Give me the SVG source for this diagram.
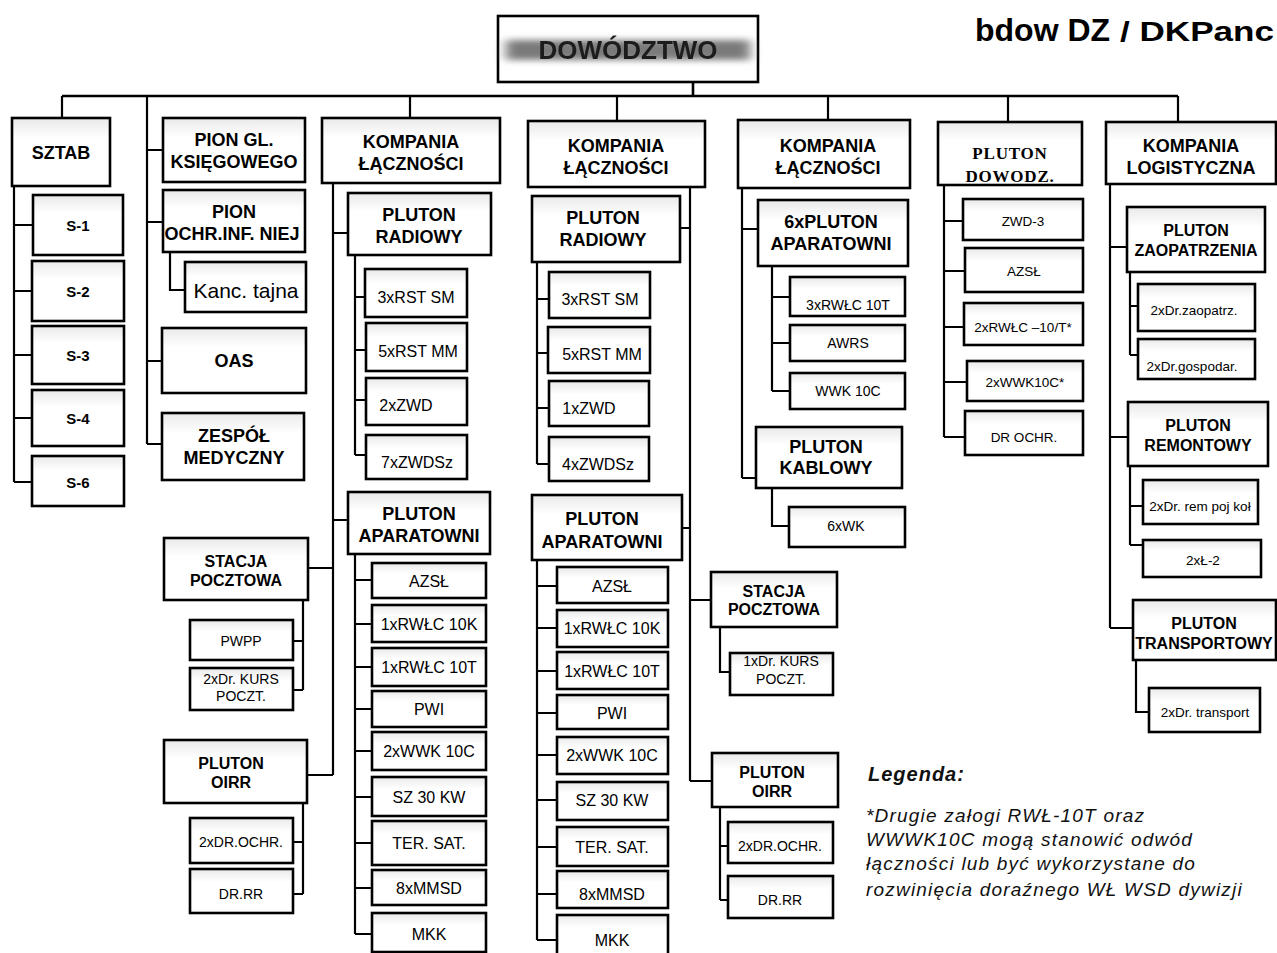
<svg xmlns="http://www.w3.org/2000/svg" width="1277" height="953" viewBox="0 0 1277 953">
  <defs>
    <linearGradient id="boxfill" x1="0" y1="0" x2="0" y2="1">
      <stop offset="0" stop-color="#e9e9e9"/>
      <stop offset="0.3" stop-color="#ffffff"/>
      <stop offset="1" stop-color="#ffffff"/>
    </linearGradient>
    <filter id="smear" x="-20%" y="-100%" width="140%" height="300%">
      <feGaussianBlur stdDeviation="6 3"/>
    </filter>
    <filter id="soft" x="-5%" y="-20%" width="110%" height="140%">
      <feGaussianBlur stdDeviation="0.7"/>
    </filter>
  </defs>
  <style>
    .box { fill: url(#boxfill); stroke: #000; stroke-width: 2.6; }
    .ln { fill: none; stroke: #000; stroke-width: 2.2; }
    .bus { fill: none; stroke: #000; stroke-width: 2.6; }
    text { font-family: "Liberation Sans", Arial, sans-serif; fill: #000; text-anchor: middle; dominant-baseline: central; }
    .h { font-size: 18px; font-weight: bold; }
    .hs { font-size: 16px; font-weight: bold; }
    .sx { font-size: 15px; font-weight: bold; }
    .i { font-size: 16px; }
    .is { font-size: 14px; }
    .ix { font-size: 13.5px; }
    .serif { font-family: "Liberation Serif", "Times New Roman", serif; font-size: 17px; font-weight: bold; letter-spacing: 0.8px; }
    .leg { text-anchor: start; dominant-baseline: auto; font-style: italic; font-size: 19px; letter-spacing: 1.2px; fill: #111; }
  </style>
  <rect width="1277" height="953" fill="#fff"/>

  <!-- connectors -->
  <g id="connectors">
    <path class="bus" d="M62 96 H1178 M693 82 V96"/>
    <path class="ln" d="M62 96 V118 M147 96 V444 M410 96 V118 M617 96 V121 M828 96 V120 M1008 96 V122 M1178 96 V122"/>
    <!-- staff -->
    <path class="ln" d="M14 186 V482 M14 225 H33 M14 291 H32 M14 355 H32 M14 418 H32 M14 482 H32"/>
    <!-- accounting / protection / OAS / medical -->
    <path class="ln" d="M147 150 H163 M147 222 H163 M147 361 H162 M147 444 H162 M170 252 V290 H185"/>
    <!-- signal company 1 -->
    <path class="ln" d="M333 183 V775 M333 233 H348 M333 520 H348 M308 568 H333 M307 775 H333"/>
    <path class="ln" d="M355 255 V455 M355 297 H365 M355 350 H366 M355 400 H366 M355 455 H366"/>
    <path class="ln" d="M355 554 V934 M355 580 H372 M355 624 H372 M355 667 H372 M355 709 H372 M355 751 H372 M355 797 H372 M355 843 H372 M355 888 H372 M355 934 H372"/>
    <path class="ln" d="M303 600 V690 M293 641 H303 M293 690 H303"/>
    <path class="ln" d="M303 803 V894 M293 842 H303 M293 894 H303"/>
    <!-- signal company 2 -->
    <path class="ln" d="M690 187 V781 M680 228 H690 M682 528 H690 M690 600 H711 M690 781 H712"/>
    <path class="ln" d="M537 262 V464 M537 299 H549 M537 353 H548 M537 408 H549 M537 464 H549"/>
    <path class="ln" d="M537 560 V940 M537 586 H557 M537 628 H557 M537 671 H557 M537 713 H557 M537 755 H557 M537 800 H557 M537 847 H557 M537 894 H557 M537 940 H557"/>
    <path class="ln" d="M720 627 V672 H730"/>
    <path class="ln" d="M720 807 V900 M720 846 H728 M720 900 H728"/>
    <!-- signal company 3 -->
    <path class="ln" d="M742 188 V478 M742 229 H758 M742 478 H756"/>
    <path class="ln" d="M772 266 V391 M772 297 H790 M772 343 H790 M772 391 H790"/>
    <path class="ln" d="M772 488 V526 H789"/>
    <!-- command platoon -->
    <path class="ln" d="M944 185 V437 M944 221 H963 M944 271 H965 M944 327 H964 M944 382 H967 M944 437 H965"/>
    <!-- logistics company -->
    <path class="ln" d="M1110 184 V628 M1110 247 H1127 M1110 437 H1128 M1110 628 H1133"/>
    <path class="ln" d="M1130 272 V355 M1130 306 H1138 M1130 355 H1138"/>
    <path class="ln" d="M1130 466 V545 M1130 506 H1143 M1130 545 H1143"/>
    <path class="ln" d="M1136 660 V712 H1149"/>
  </g>

  <!-- headquarters -->
  <g id="dowodztwo">
    <rect class="box" x="498" y="16" width="260" height="66" style="fill:#fff"/>
    <rect x="506" y="40" width="244" height="20" fill="#7a7a7a" filter="url(#smear)"/>
    <text x="628" y="50" filter="url(#soft)" style="font-size:26px;font-weight:bold;fill:#1e1e1e">DOWÓDZTWO</text>
  </g>

  <g id="title">
    <text x="975" y="41" style="text-anchor:start;dominant-baseline:auto;font-size:32px;font-weight:bold">bdow DZ</text>
    <text x="1120" y="41" textLength="154" lengthAdjust="spacingAndGlyphs" style="text-anchor:start;dominant-baseline:auto;font-size:28px;font-weight:bold">/ DKPanc</text>
  </g>

  <!-- staff -->
  <g id="sztab"><rect class="box" x="12" y="118" width="98" height="68"/><text class="h" x="61" y="153">SZTAB</text></g>
  <g id="s1"><rect class="box" x="33" y="195" width="90" height="60"/><text class="sx" x="78" y="225">S-1</text></g>
  <g id="s2"><rect class="box" x="32" y="261" width="92" height="60"/><text class="sx" x="78" y="291">S-2</text></g>
  <g id="s3"><rect class="box" x="32" y="326" width="92" height="58"/><text class="sx" x="78" y="355">S-3</text></g>
  <g id="s4"><rect class="box" x="32" y="390" width="92" height="56"/><text class="sx" x="78" y="418">S-4</text></g>
  <g id="s6"><rect class="box" x="32" y="456" width="92" height="50"/><text class="sx" x="78" y="482">S-6</text></g>

  <!-- separate sections -->
  <g id="pion-gl"><rect class="box" x="163" y="118" width="142" height="64"/><text class="h" x="234" y="140">PION GL.</text><text class="h" x="234" y="162">KSIĘGOWEGO</text></g>
  <g id="pion-ochr"><rect class="box" x="163" y="190" width="142" height="62"/><text class="h" x="234" y="212">PION</text><text class="h" x="232" y="234">OCHR.INF. NIEJ</text></g>
  <g id="kanc"><rect class="box" x="185" y="262" width="121" height="50"/><text x="246" y="290" style="font-size:21px">Kanc. tajna</text></g>
  <g id="oas"><rect class="box" x="162" y="328" width="144" height="65"/><text class="h" x="234" y="361">OAS</text></g>
  <g id="zespol"><rect class="box" x="162" y="413" width="142" height="67"/><text class="h" x="234" y="436">ZESPÓŁ</text><text class="h" x="234" y="458">MEDYCZNY</text></g>

  <!-- signal company 1 -->
  <g id="k1"><rect class="box" x="322" y="118" width="178" height="65"/><text class="h" x="411" y="142">KOMPANIA</text><text class="h" x="411" y="164">ŁĄCZNOŚCI</text></g>
  <g id="k1-radiowy"><rect class="box" x="348" y="193" width="143" height="62"/><text class="h" x="419" y="215">PLUTON</text><text class="h" x="419" y="237">RADIOWY</text></g>
  <g id="k1-r1"><rect class="box" x="365" y="269" width="102" height="48"/><text class="i" x="416" y="297">3xRST SM</text></g>
  <g id="k1-r2"><rect class="box" x="366" y="323" width="101" height="48"/><text class="i" x="418" y="351">5xRST MM</text></g>
  <g id="k1-r3"><rect class="box" x="366" y="378" width="101" height="47"/><text class="i" x="406" y="405">2xZWD</text></g>
  <g id="k1-r4"><rect class="box" x="366" y="435" width="101" height="44"/><text class="i" x="417" y="462">7xZWDSz</text></g>
  <g id="k1-aparatowni"><rect class="box" x="348" y="492" width="142" height="62"/><text class="h" x="419" y="514">PLUTON</text><text class="h" x="419" y="536">APARATOWNI</text></g>
  <g id="k1-a1"><rect class="box" x="372" y="563" width="114" height="35"/><text class="i" x="429" y="581">AZSŁ</text></g>
  <g id="k1-a2"><rect class="box" x="372" y="605" width="114" height="37"/><text class="i" x="429" y="624">1xRWŁC 10K</text></g>
  <g id="k1-a3"><rect class="box" x="372" y="648" width="114" height="38"/><text class="i" x="429" y="667">1xRWŁC 10T</text></g>
  <g id="k1-a4"><rect class="box" x="372" y="691" width="114" height="36"/><text class="i" x="429" y="709">PWI</text></g>
  <g id="k1-a5"><rect class="box" x="372" y="732" width="114" height="38"/><text class="i" x="429" y="751">2xWWK 10C</text></g>
  <g id="k1-a6"><rect class="box" x="372" y="777" width="114" height="39"/><text class="i" x="429" y="797">SZ 30 KW</text></g>
  <g id="k1-a7"><rect class="box" x="372" y="821" width="114" height="44"/><text class="i" x="429" y="843">TER. SAT.</text></g>
  <g id="k1-a8"><rect class="box" x="372" y="870" width="114" height="35"/><text class="i" x="429" y="888">8xMMSD</text></g>
  <g id="k1-a9"><rect class="box" x="372" y="913" width="114" height="39"/><text class="i" x="429" y="934">MKK</text></g>
  <g id="k1-stacja"><rect class="box" x="164" y="538" width="144" height="62"/><text class="hs" x="236" y="561">STACJA</text><text class="hs" x="236" y="580">POCZTOWA</text></g>
  <g id="k1-pwpp"><rect class="box" x="190" y="620" width="103" height="40"/><text class="is" x="241" y="641">PWPP</text></g>
  <g id="k1-kurs"><rect class="box" x="190" y="668" width="103" height="42"/><text class="is" x="241" y="679">2xDr. KURS</text><text class="is" x="241" y="696">POCZT.</text></g>
  <g id="k1-oirr"><rect class="box" x="164" y="740" width="143" height="63"/><text class="hs" x="231" y="763">PLUTON</text><text class="hs" x="231" y="782">OIRR</text></g>
  <g id="k1-ochr"><rect class="box" x="190" y="818" width="103" height="45"/><text class="is" x="241" y="842">2xDR.OCHR.</text></g>
  <g id="k1-rr"><rect class="box" x="190" y="869" width="103" height="44"/><text class="is" x="241" y="894">DR.RR</text></g>

  <!-- signal company 2 -->
  <g id="k2"><rect class="box" x="528" y="121" width="177" height="66"/><text class="h" x="616" y="146">KOMPANIA</text><text class="h" x="616" y="168">ŁĄCZNOŚCI</text></g>
  <g id="k2-radiowy"><rect class="box" x="532" y="196" width="148" height="66"/><text class="h" x="603" y="218">PLUTON</text><text class="h" x="603" y="240">RADIOWY</text></g>
  <g id="k2-r1"><rect class="box" x="549" y="272" width="101" height="46"/><text class="i" x="600" y="299">3xRST SM</text></g>
  <g id="k2-r2"><rect class="box" x="548" y="327" width="102" height="46"/><text class="i" x="602" y="354">5xRST MM</text></g>
  <g id="k2-r3"><rect class="box" x="549" y="381" width="100" height="45"/><text class="i" x="589" y="408">1xZWD</text></g>
  <g id="k2-r4"><rect class="box" x="549" y="437" width="100" height="44"/><text class="i" x="598" y="464">4xZWDSz</text></g>
  <g id="k2-aparatowni"><rect class="box" x="532" y="495" width="150" height="65"/><text class="h" x="602" y="519">PLUTON</text><text class="h" x="602" y="542">APARATOWNI</text></g>
  <g id="k2-a1"><rect class="box" x="557" y="567" width="111" height="36"/><text class="i" x="612" y="586">AZSŁ</text></g>
  <g id="k2-a2"><rect class="box" x="557" y="610" width="111" height="37"/><text class="i" x="612" y="628">1xRWŁC 10K</text></g>
  <g id="k2-a3"><rect class="box" x="557" y="652" width="111" height="37"/><text class="i" x="612" y="671">1xRWŁC 10T</text></g>
  <g id="k2-a4"><rect class="box" x="557" y="695" width="111" height="34"/><text class="i" x="612" y="713">PWI</text></g>
  <g id="k2-a5"><rect class="box" x="557" y="737" width="111" height="37"/><text class="i" x="612" y="755">2xWWK 10C</text></g>
  <g id="k2-a6"><rect class="box" x="557" y="782" width="111" height="38"/><text class="i" x="612" y="800">SZ 30 KW</text></g>
  <g id="k2-a7"><rect class="box" x="557" y="827" width="111" height="39"/><text class="i" x="612" y="847">TER. SAT.</text></g>
  <g id="k2-a8"><rect class="box" x="557" y="871" width="111" height="37"/><text class="i" x="612" y="894">8xMMSD</text></g>
  <g id="k2-a9"><rect class="box" x="557" y="915" width="111" height="40"/><text class="i" x="612" y="940">MKK</text></g>
  <g id="k2-stacja"><rect class="box" x="711" y="572" width="126" height="55"/><text class="hs" x="774" y="591">STACJA</text><text class="hs" x="774" y="609">POCZTOWA</text></g>
  <g id="k2-kurs"><rect class="box" x="730" y="653" width="103" height="42"/><text class="is" x="781" y="661">1xDr. KURS</text><text class="is" x="781" y="679">POCZT.</text></g>
  <g id="k2-oirr"><rect class="box" x="712" y="753" width="126" height="54"/><text class="hs" x="772" y="772">PLUTON</text><text class="hs" x="772" y="791">OIRR</text></g>
  <g id="k2-ochr"><rect class="box" x="728" y="822" width="105" height="41"/><text class="is" x="780" y="846">2xDR.OCHR.</text></g>
  <g id="k2-rr"><rect class="box" x="728" y="876" width="105" height="42"/><text class="is" x="780" y="900">DR.RR</text></g>

  <!-- signal company 3 -->
  <g id="k3"><rect class="box" x="738" y="120" width="172" height="68"/><text class="h" x="828" y="146">KOMPANIA</text><text class="h" x="828" y="168">ŁĄCZNOŚCI</text></g>
  <g id="k3-aparatowni"><rect class="box" x="758" y="200" width="150" height="66"/><text class="h" x="831" y="222">6xPLUTON</text><text class="h" x="831" y="244">APARATOWNI</text></g>
  <g id="k3-a1"><rect class="box" x="790" y="277" width="115" height="39"/><text class="is" x="848" y="305">3xRWŁC 10T</text></g>
  <g id="k3-a2"><rect class="box" x="790" y="325" width="115" height="36"/><text class="is" x="848" y="343">AWRS</text></g>
  <g id="k3-a3"><rect class="box" x="790" y="373" width="115" height="36"/><text class="is" x="848" y="391">WWK 10C</text></g>
  <g id="k3-kablowy"><rect class="box" x="756" y="427" width="146" height="61"/><text class="h" x="826" y="447">PLUTON</text><text class="h" x="826" y="468">KABLOWY</text></g>
  <g id="k3-wk"><rect class="box" x="789" y="507" width="116" height="40"/><text class="is" x="846" y="526">6xWK</text></g>

  <!-- command platoon -->
  <g id="pluton-dowodz"><rect class="box" x="938" y="122" width="144" height="63"/><text class="serif" x="1010" y="153">PLUTON</text><text class="serif" x="1010" y="176">DOWODZ.</text></g>
  <g id="pd-1"><rect class="box" x="963" y="199" width="120" height="41"/><text class="ix" x="1023" y="221">ZWD-3</text></g>
  <g id="pd-2"><rect class="box" x="965" y="248" width="118" height="44"/><text class="ix" x="1024" y="271">AZSŁ</text></g>
  <g id="pd-3"><rect class="box" x="964" y="303" width="119" height="42"/><text class="ix" x="1023" y="327">2xRWŁC –10/T*</text></g>
  <g id="pd-4"><rect class="box" x="967" y="361" width="116" height="40"/><text class="ix" x="1025" y="382">2xWWK10C*</text></g>
  <g id="pd-5"><rect class="box" x="965" y="411" width="118" height="44"/><text class="ix" x="1024" y="437">DR OCHR.</text></g>

  <!-- logistics company -->
  <g id="k-log"><rect class="box" x="1106" y="122" width="170" height="62"/><text class="h" x="1191" y="146">KOMPANIA</text><text class="h" x="1191" y="168">LOGISTYCZNA</text></g>
  <g id="kl-zaop"><rect class="box" x="1127" y="207" width="138" height="65"/><text class="hs" x="1196" y="230">PLUTON</text><text class="hs" x="1196" y="250">ZAOPATRZENIA</text></g>
  <g id="kl-z1"><rect class="box" x="1138" y="284" width="117" height="47"/><text class="ix" x="1194" y="310">2xDr.zaopatrz.</text></g>
  <g id="kl-z2"><rect class="box" x="1138" y="339" width="117" height="40"/><text class="ix" x="1192" y="366">2xDr.gospodar.</text></g>
  <g id="kl-rem"><rect class="box" x="1128" y="402" width="140" height="64"/><text class="hs" x="1198" y="425">PLUTON</text><text class="hs" x="1198" y="445">REMONTOWY</text></g>
  <g id="kl-r1"><rect class="box" x="1143" y="480" width="115" height="44"/><text class="ix" x="1200" y="506">2xDr. rem poj koł</text></g>
  <g id="kl-r2"><rect class="box" x="1143" y="540" width="118" height="37"/><text class="ix" x="1203" y="560">2xŁ-2</text></g>
  <g id="kl-trans"><rect class="box" x="1133" y="600" width="143" height="60"/><text class="hs" x="1204" y="623">PLUTON</text><text class="hs" x="1204" y="643">TRANSPORTOWY</text></g>
  <g id="kl-t1"><rect class="box" x="1149" y="688" width="111" height="44"/><text class="ix" x="1205" y="712">2xDr. transport</text></g>

  <!-- legend -->
  <g id="legend">
    <text class="leg" x="868" y="781" style="font-weight:bold;font-size:20px;letter-spacing:1px">Legenda:</text>
    <text class="leg" x="866" y="822">*Drugie załogi RWŁ-10T oraz</text>
    <text class="leg" x="866" y="846">WWWK10C mogą stanowić  odwód</text>
    <text class="leg" x="866" y="870">łączności lub być wykorzystane do</text>
    <text class="leg" x="866" y="896">rozwinięcia doraźnego WŁ WSD dywizji</text>
  </g>
</svg>
